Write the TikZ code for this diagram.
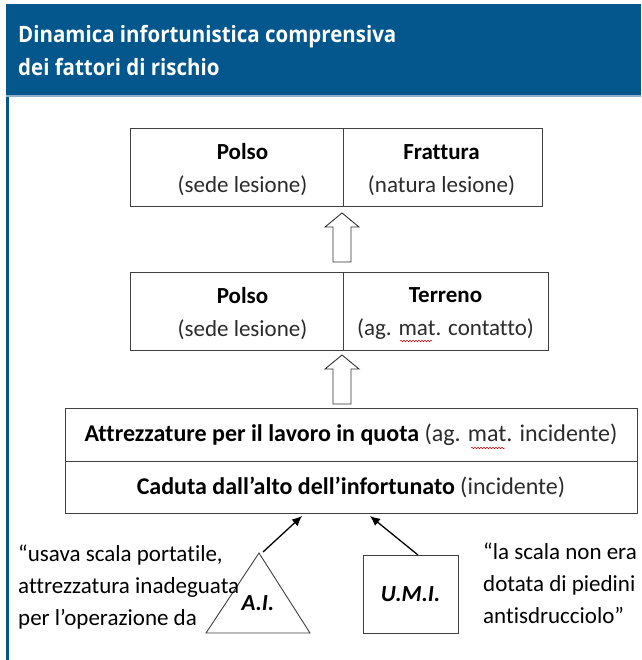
\documentclass[tikz,border=0pt]{standalone}
\usepackage{fontspec}
\setmainfont{Carlito}[Ligatures={NoCommon}]
\newfontfamily\titlefont{Open Sans}[FakeStretch=0.91]
\usetikzlibrary{arrows.meta,decorations.pathmorphing}
\definecolor{hdrblue}{HTML}{03578C}
\definecolor{hdrline}{HTML}{8FB0CA}
\definecolor{paren}{HTML}{2B2B2B}
\begin{document}
\begin{tikzpicture}[x=1pt,y=-1pt,
  cell/.style={draw=black!75,line width=0.9pt,inner sep=0pt,minimum height=78pt},
  celltext/.style={inner sep=0pt,align=center,font=\fontsize{23}{33}\selectfont},
  bigcell/.style={draw=black!75,line width=0.9pt,inner sep=0pt,align=center,
    font=\fontsize{24}{30}\selectfont,minimum width=572pt},
  hollow/.style={draw=black!80,line width=0.9pt,fill=white},
  conn/.style={draw=black,line width=1.3pt,-{Latex[length=10pt,width=9pt]}},
  side/.style={align=left,inner sep=0pt,font=\fontsize{23}{32}\selectfont},
  squig/.style={draw=red!80!black,line width=0.5pt,decorate,
    decoration={snake,amplitude=0.8pt,segment length=3pt}}]
\useasboundingbox (0,0) rectangle (641,660);
\fill[white] (0,0) rectangle (641,660);
% header
\fill[hdrblue] (6,4) rectangle (641,96);
\fill[hdrline] (6,95.5) rectangle (641,97.5);
\fill[hdrblue] (6,97.5) rectangle (9,660);
\node[anchor=west,inner sep=0pt,text=white,align=left,
  font=\titlefont\bfseries\fontsize{22.5}{33}\selectfont] (title) at (18,51)
  {Dinamica infortunistica comprensiva\\dei fattori di rischio};
% top boxes
\node[cell,minimum width=213pt] (b1l) at (236.5,167) {};
\node[cell,minimum width=199pt] (b1r) at (442.5,167) {};
\node[cell,minimum width=213pt] (b2l) at (236.5,311) {};
\node[cell,minimum width=205pt] (b2r) at (445.5,311) {};
\node[celltext] (t1l) at ([shift={(6,3)}]b1l.center)
  {\textbf{Polso}\\\textcolor{paren}{(sede lesione)}};
\node[celltext] (t1r) at ([shift={(-1,3)}]b1r.center)
  {\textbf{Frattura}\\\textcolor{paren}{(natura lesione)}};
\node[celltext] (t2l) at ([shift={(6,3)}]b2l.center)
  {\textbf{Polso}\\\textcolor{paren}{(sede lesione)}};
\node[celltext] (t2r) at ([shift={(0,3)}]b2r.center)
  {\textbf{Terreno}\\\textcolor{paren}{(ag. mat. contatto)}};
% bottom double box
\node[bigcell,minimum height=53pt] (big1) at (351,434.5)
  {\textbf{Attrezzature per il lavoro in quota} \textcolor{paren}{(ag. mat. incidente)}};
\node[bigcell,minimum height=52pt] (big2) at (351,487)
  {\textbf{Caduta dall’alto dell’infortunato} \textcolor{paren}{(incidente)}};
% hollow arrows
\draw[hollow] (333,262) -- (333,227) -- (325,227) -- (342,213) -- (359,227)
  -- (351,227) -- (351,262) -- cycle;
\draw[hollow] (333,404) -- (333,369) -- (325,369) -- (342,355) -- (359,369)
  -- (351,369) -- (351,404) -- cycle;
% spell-check squiggles
\draw[squig] (400,341) -- (432,341);
\draw[squig] (471,448) -- (505,448);
% triangle A.I.
\draw[draw=black!75,line width=0.9pt] (259,553) -- (310,633) -- (206,633) -- cycle;
\coordinate (aitop) at (263,552);
\node[font=\fontsize{23}{24}\selectfont\bfseries\itshape,inner sep=0pt] (ai) at (258,603) {A.I.};
% box U.M.I.
\node[draw=black!75,line width=0.9pt,minimum width=95pt,minimum height=78pt,
  inner sep=0pt,font=\fontsize{23}{24}\selectfont\bfseries\itshape] (umi) at (410.5,594) {U.M.I.};
\coordinate (t1) at (302,516);
\coordinate (t2) at (370,516);
\coordinate (umitop) at (418,555);
\draw[conn] (aitop) -- (t1);
\draw[conn] (umitop) -- (t2);
% side texts
\node[side,anchor=north west] (lefttxt) at (18,545)
  {“usava scala portatile,\\attrezzatura inadeguata\\per l’operazione da};
\node[side,anchor=north west] (righttxt) at (483,543)
  {“la scala non era\\dotata di piedini\\antisdrucciolo”};
\end{tikzpicture}
\end{document}
